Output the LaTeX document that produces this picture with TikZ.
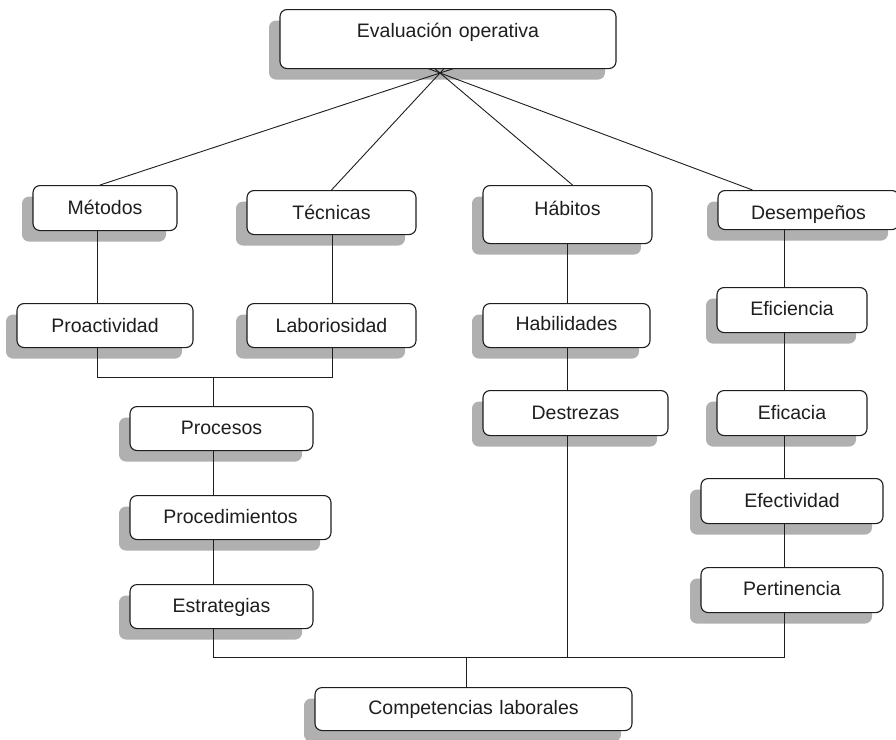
\documentclass[tikz,border=0pt]{standalone}
\usepackage{fontspec}
\setmainfont{Liberation Sans}
\usetikzlibrary{shadows}

\definecolor{shadowgray}{RGB}{176,176,176}
\definecolor{inkgray}{RGB}{30,30,30}

\tikzset{
  x=1pt, y=-1pt,
  cbox/.style={draw=inkgray, line width=1.1pt, fill=white, rounded corners=7pt,
    inner sep=0pt, align=center, text=inkgray, anchor=north,
    font=\fontsize{19.5}{22}\selectfont,
    general shadow={fill=shadowgray, shadow xshift=-11pt, shadow yshift=-11pt}},
  conn/.style={draw=inkgray, line width=0.9pt}
}

% box from (x1,y1) to (x2,y2) with the text centred on line ty
\newcommand\cbox[7]{%
  \pgfmathsetmacro\bw{#4-#2}%
  \pgfmathsetmacro\bt{#6-#3+7}%
  \pgfmathsetmacro\bd{#5-#6-7}%
  \node[cbox, text width=\bw pt, text height=\bt pt, text depth=\bd pt]
    (#1) at ({(#2+#4)/2},#3) {#7};}

\begin{document}
\begin{tikzpicture}
\clip (0,0) rectangle (896,739);
\fill[white] (0,0) rectangle (896,739);

% boxes
\cbox{ev}{280}{9}{616}{68}{30}{Evaluación operativa}
\cbox{met}{33}{185}{177}{230}{207}{Métodos}
\cbox{tec}{247}{190}{416}{234}{212}{Técnicas}
\cbox{hab}{483}{185}{652}{243}{208}{Hábitos}
\cbox{des}{718}{190}{899}{229}{212}{Desempeños}
\cbox{pro}{17}{303}{193}{347}{325}{Proactividad}
\cbox{lab}{247}{303}{416}{347}{325}{Laboriosidad}
\cbox{habil}{483}{303}{650}{347}{323}{Habilidades}
\cbox{destr}{483}{390}{668}{435}{412}{Destrezas}
\cbox{efi}{717}{287}{867}{332}{308}{Eficiencia}
\cbox{efc}{717}{390}{867}{435}{412}{Eficacia}
\cbox{efe}{701}{478}{883}{523}{500}{Efectividad}
\cbox{per}{701}{567}{883}{612}{588}{Pertinencia}
\cbox{proc}{130}{406}{313}{450}{427}{Procesos}
\cbox{proced}{130}{495}{331}{539}{516}{Procedimientos}
\cbox{estr}{130}{584}{313}{628}{605}{Estrategias}
\cbox{comp}{315}{687}{632}{730}{707}{Competencias laborales}

% column and bus positions
\coordinate (o) at (0,0);
\coordinate (hub) at (440,73);
\coordinate (cA) at (97,0);
\coordinate (cB) at (332,0);
\coordinate (cP) at (213,0);
\coordinate (cH) at (567,0);
\coordinate (cD) at (784,0);
\coordinate (cC) at (466,0);
\coordinate (b1) at (0,377);
\coordinate (b2) at (0,657);

% fan of lines below the top box, crossing just under it
\begin{scope}
  \clip (o |- ev.south) rectangle (896,739);
  \draw[conn, shorten <=-30pt] (hub) -- ([xshift=-5pt]met.north);
  \draw[conn, shorten <=-30pt] (hub) -- (tec.north);
  \draw[conn, shorten <=-30pt] (hub) -- ([xshift=5pt]hab.north);
  \draw[conn, shorten <=-30pt] (hub) -- ([xshift=-56pt]des.north);
\end{scope}

% left columns
\draw[conn] (met.south -| cA) -- (pro.north -| cA);
\draw[conn] (tec.south -| cB) -- (lab.north -| cB);
\draw[conn] (pro.south -| cA) -- (cA |- b1) -- (cB |- b1) -- (lab.south -| cB);
\draw[conn] (cP |- b1) -- (proc.north -| cP);
\draw[conn] (proc.south -| cP) -- (proced.north -| cP);
\draw[conn] (proced.south -| cP) -- (estr.north -| cP);

% middle column
\draw[conn] (hab.south -| cH) -- (habil.north -| cH);
\draw[conn] (habil.south -| cH) -- (destr.north -| cH);

% right column
\draw[conn] (des.south -| cD) -- (efi.north -| cD);
\draw[conn] (efi.south -| cD) -- (efc.north -| cD);
\draw[conn] (efc.south -| cD) -- (efe.north -| cD);
\draw[conn] (efe.south -| cD) -- (per.north -| cD);

% bottom bus
\draw[conn] (estr.south -| cP) -- (cP |- b2) -- (cD |- b2) -- (per.south -| cD);
\draw[conn] (destr.south -| cH) -- (cH |- b2);
\draw[conn] (cC |- b2) -- (comp.north -| cC);
\end{tikzpicture}
\end{document}
